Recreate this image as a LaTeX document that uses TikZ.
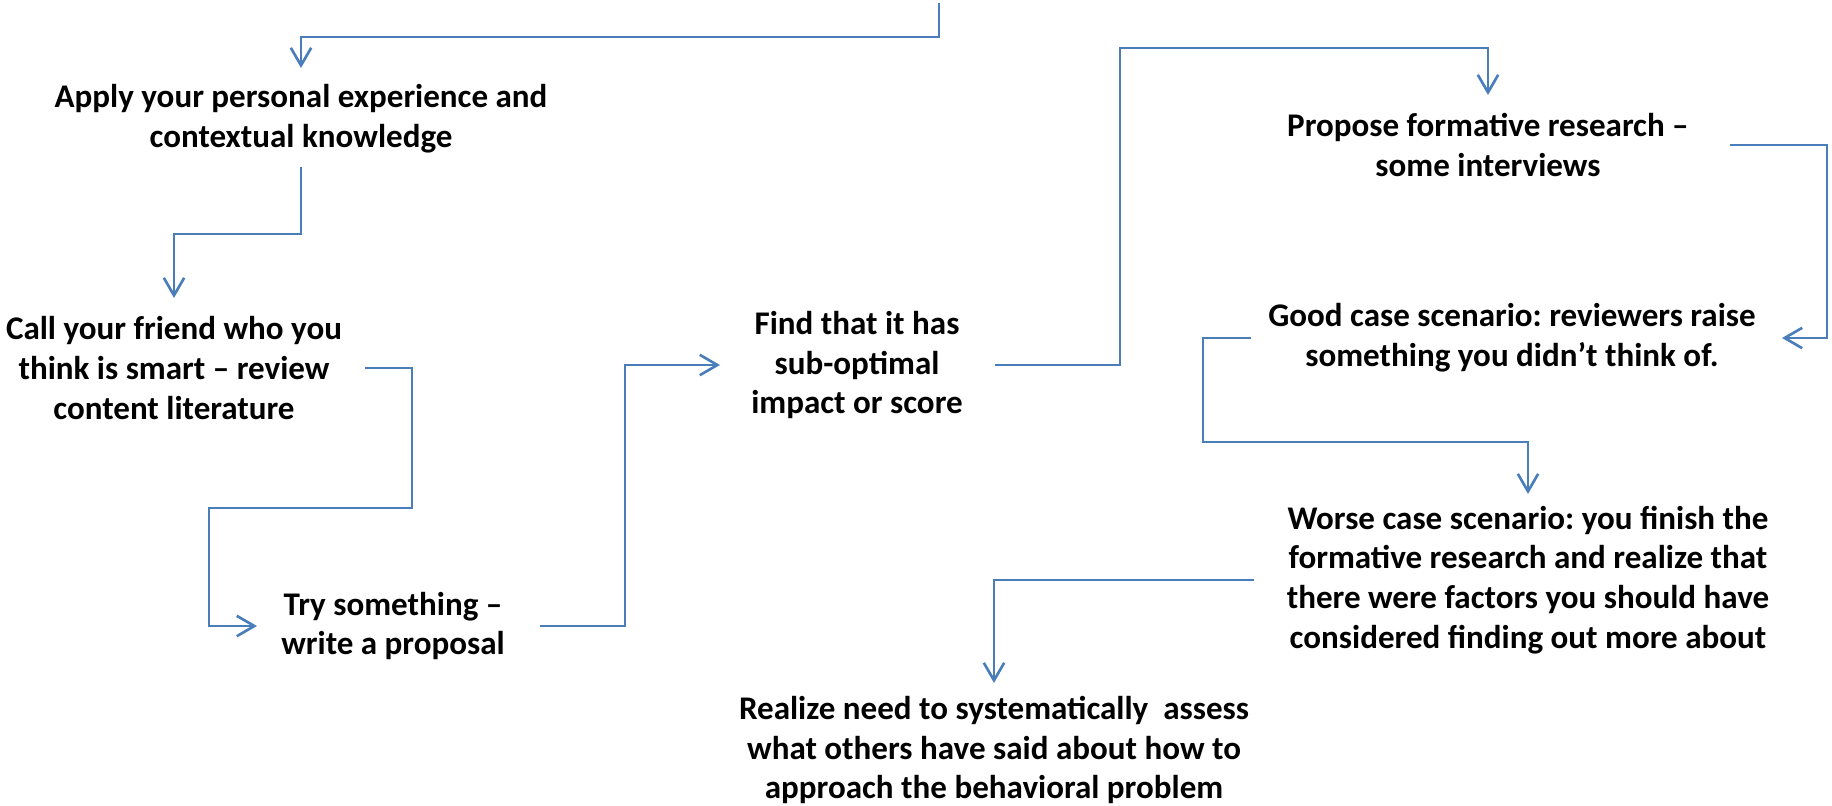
\documentclass[tikz,border=0pt]{standalone}
\usepackage{fontspec}
\setmainfont{Carlito}
\usetikzlibrary{arrows.meta}
\definecolor{connc}{RGB}{74,126,187}
\frenchspacing
\begin{document}
\begin{tikzpicture}[x=0.01cm,y=-0.01cm,
  lbl/.style={font=\bfseries\fontsize{9.4}{11.3}\selectfont, align=center, inner sep=0pt, text=black},
  conn/.style={draw=connc, line width=0.75pt, line join=miter, -{Straight Barb[length=5pt,width=5.8pt]}}]
\useasboundingbox (0,0) rectangle (1832,805);
\node[lbl] (apply) at (301,119) {Apply your personal experience and\\contextual knowledge};
\node[lbl] (call) at (174,368) {Call your friend who you\\think is smart – review\\content literature};
\node[lbl] (try) at (393,626) {Try something –\\write a proposal};
\node[lbl] (find) at (857,365) {Find that it has\\sub-optimal\\impact or score};
\node[lbl] (propose) at (1488,145) {Propose formative research –\\some interviews};
\node[lbl] (good) at (1512,338) {Good case scenario: reviewers raise\\something you didn’t think of.};
\node[lbl] (worse) at (1528,580) {Worse case scenario: you finish the\\formative research and realize that\\there were factors you should have\\considered finding out more about};
\node[lbl] (realize) at (994,750) {Realize need to systematically\ \ assess\\what others have said about how to\\approach the behavioral problem};
\coordinate (top) at (939,3);
\draw[conn] (top) -- (939,37) -| (apply.north |- 0,68);
\draw[conn] (apply.south |- 0,167) -- (apply.south |- 0,234) -| (call.north |- 0,298);
\draw[conn] (call.east -| 365,0) -| (412,508) -| (try.west -| 209,0) -- (try.west -| 257,0);
\draw[conn] (try.east -| 540,0) -| (find.west -| 625,0) -- (find.west -| 720,0);
\draw[conn] (find.east -| 995,0) -| (1120,48) -| (propose.north |- 0,95);
\draw[conn] (propose.east -| 1730,0) -| (good.east -| 1827,0) -- (good.east -| 1782,0);
\draw[conn] (good.west -| 1251,0) -| (1203,442) -| (worse.north |- 0,494);
\draw[conn] (worse.west -| 1254,0) -| (realize.north |- 0,683);
\end{tikzpicture}
\end{document}
